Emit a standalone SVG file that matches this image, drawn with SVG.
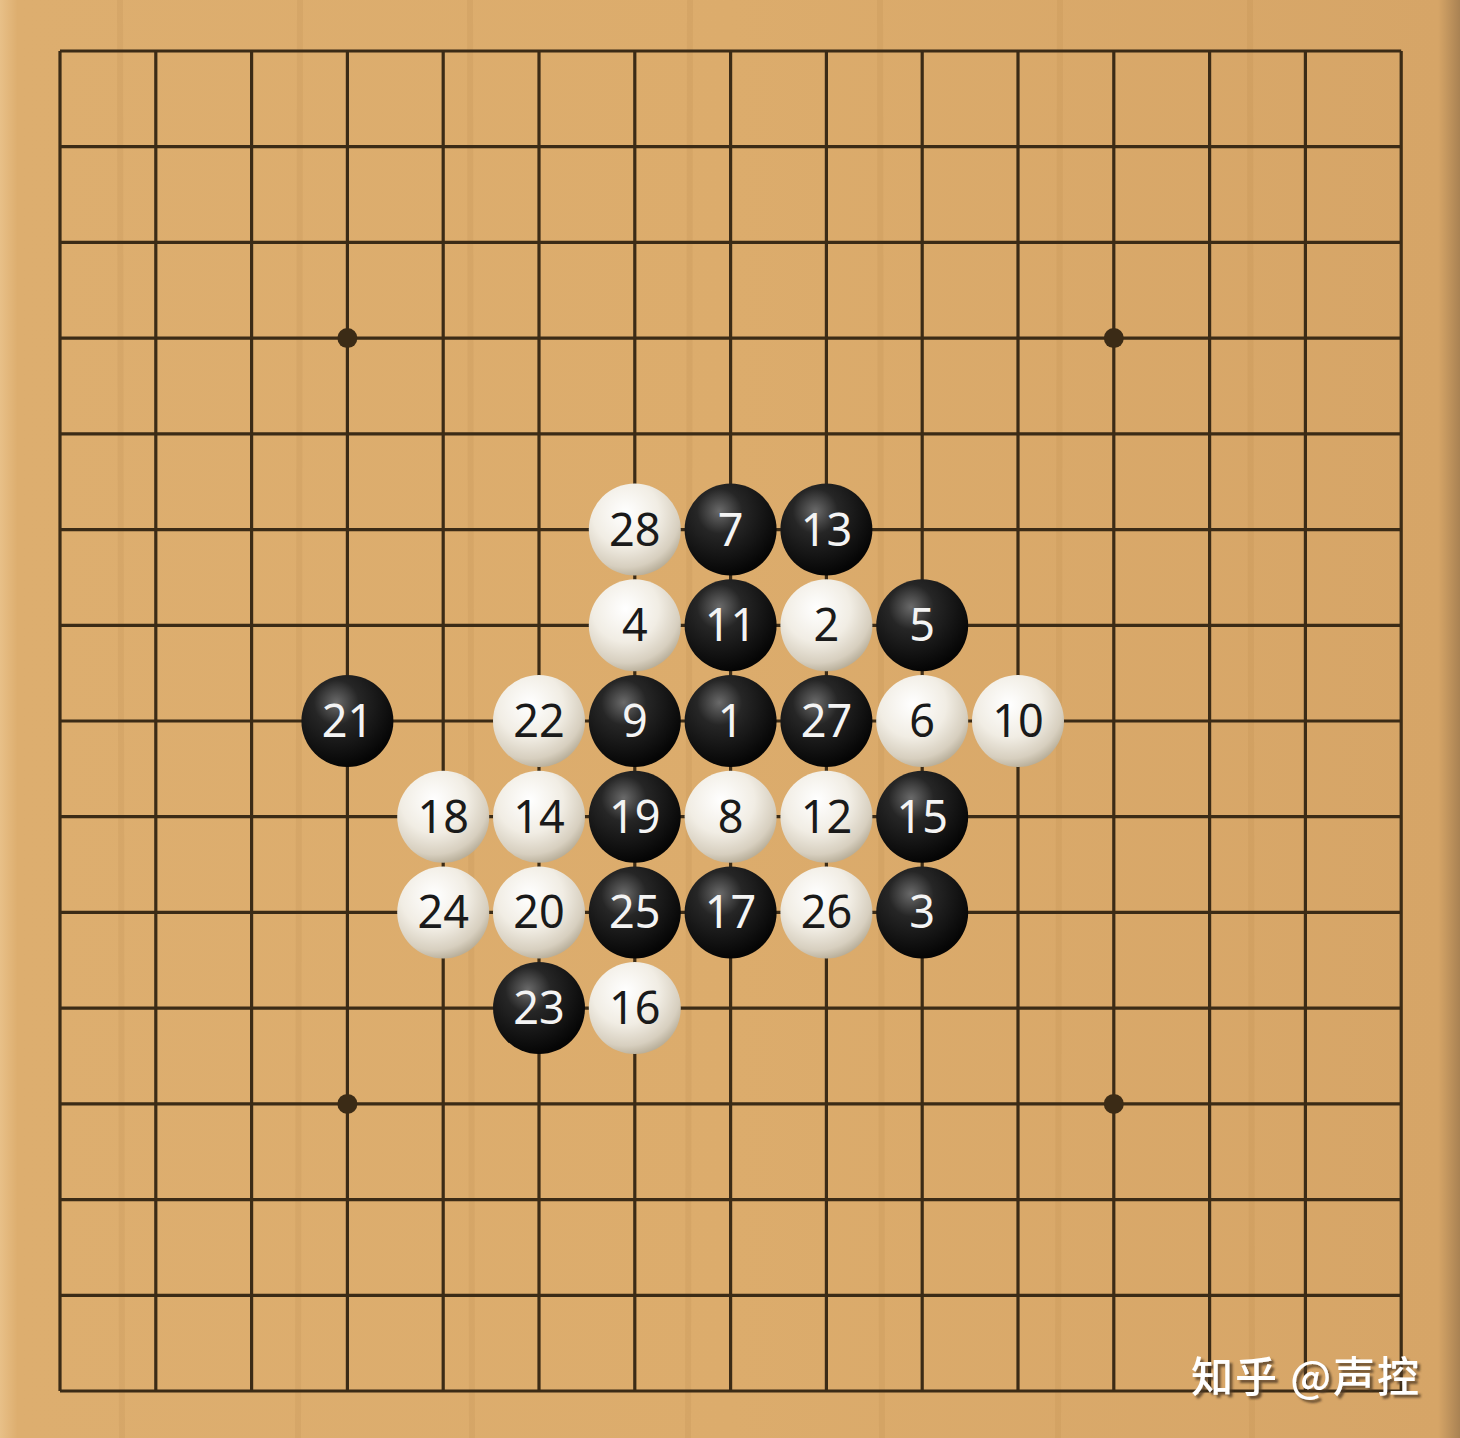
<svg xmlns="http://www.w3.org/2000/svg" width="1460" height="1438" viewBox="0 0 1460 1438">
<defs>
<linearGradient id="wood" x1="0" y1="0" x2="1" y2="0">
<stop offset="0" stop-color="#e8c088"/>
<stop offset="0.012" stop-color="#ddae6f"/>
<stop offset="0.5" stop-color="#dcac6c"/>
<stop offset="0.985" stop-color="#d6a567"/>
<stop offset="1" stop-color="#a98253"/>
</linearGradient>
<radialGradient id="gb" cx="0.38" cy="0.3" r="0.7">
<stop offset="0" stop-color="#6a6a6a"/>
<stop offset="0.35" stop-color="#262626"/>
<stop offset="1" stop-color="#050505"/>
</radialGradient>
<radialGradient id="gw" cx="0.4" cy="0.32" r="0.72">
<stop offset="0" stop-color="#ffffff"/>
<stop offset="0.5" stop-color="#f1ede4"/>
<stop offset="0.82" stop-color="#d7cfbf"/>
<stop offset="1" stop-color="#b3a993"/>
</radialGradient>
<filter id="sh" x="-10%" y="-30%" width="120%" height="160%">
<feDropShadow dx="3" dy="3" stdDeviation="1.2" flood-color="#4a3820" flood-opacity="0.75"/>
</filter>
</defs>
<style>
.ln{stroke:#3b2b16;stroke-width:3.2;fill:none}
.star{fill:#3b2b16}
.b circle{fill:url(#gb)}
.w circle{fill:url(#gw)}
.b text,.w text{font-family:"Noto Sans","Open Sans","DejaVu Sans",sans-serif;font-size:45px;text-anchor:middle}
.b text{fill:#f4f4f4}
.w text{fill:#1a1a1a}
.wm{font-family:"Noto Sans CJK SC","Noto Sans",sans-serif;font-size:42px;font-weight:500;fill:#ffffff}
</style>
<rect width="1460" height="1438" fill="url(#wood)"/>
<g opacity="0.06" stroke="#7a4a10" stroke-width="6">
<line x1="120" y1="0" x2="122" y2="1438"/>
<line x1="300" y1="0" x2="298" y2="1438"/>
<line x1="470" y1="0" x2="472" y2="1438"/>
<line x1="690" y1="0" x2="688" y2="1438"/>
<line x1="880" y1="0" x2="882" y2="1438"/>
<line x1="1060" y1="0" x2="1058" y2="1438"/>
<line x1="1250" y1="0" x2="1252" y2="1438"/>
</g>
<g id="grid">
<path class="ln" d="M60 51V1391M155.8 51V1391M251.6 51V1391M347.4 51V1391M443.2 51V1391M539 51V1391M634.8 51V1391M730.6 51V1391M826.4 51V1391M922.2 51V1391M1018 51V1391M1113.8 51V1391M1209.6 51V1391M1305.4 51V1391M1401.2 51V1391"/>
<path class="ln" d="M60 51H1401.2M60 146.7H1401.2M60 242.4H1401.2M60 338.1H1401.2M60 433.9H1401.2M60 529.6H1401.2M60 625.3H1401.2M60 721H1401.2M60 816.7H1401.2M60 912.4H1401.2M60 1008.1H1401.2M60 1103.9H1401.2M60 1199.6H1401.2M60 1295.3H1401.2M60 1391H1401.2"/>
<circle class="star" cx="347.4" cy="338.1" r="10"/>
<circle class="star" cx="1113.8" cy="338.1" r="10"/>
<circle class="star" cx="347.4" cy="1103.9" r="10"/>
<circle class="star" cx="1113.8" cy="1103.9" r="10"/>
</g>
<g id="stones">
<g id="s28" class="w"><circle cx="634.8" cy="529.6" r="46"/><text x="634.8" y="545.6">28</text></g>
<g id="s7" class="b"><circle cx="730.6" cy="529.6" r="46"/><text x="730.6" y="545.6">7</text></g>
<g id="s13" class="b"><circle cx="826.4" cy="529.6" r="46"/><text x="826.4" y="545.6">13</text></g>
<g id="s4" class="w"><circle cx="634.8" cy="625.3" r="46"/><text x="634.8" y="641.3">4</text></g>
<g id="s11" class="b"><circle cx="730.6" cy="625.3" r="46"/><text x="730.6" y="641.3">11</text></g>
<g id="s2" class="w"><circle cx="826.4" cy="625.3" r="46"/><text x="826.4" y="641.3">2</text></g>
<g id="s5" class="b"><circle cx="922.2" cy="625.3" r="46"/><text x="922.2" y="641.3">5</text></g>
<g id="s21" class="b"><circle cx="347.4" cy="721" r="46"/><text x="347.4" y="737">21</text></g>
<g id="s22" class="w"><circle cx="539" cy="721" r="46"/><text x="539" y="737">22</text></g>
<g id="s9" class="b"><circle cx="634.8" cy="721" r="46"/><text x="634.8" y="737">9</text></g>
<g id="s1" class="b"><circle cx="730.6" cy="721" r="46"/><text x="730.6" y="737">1</text></g>
<g id="s27" class="b"><circle cx="826.4" cy="721" r="46"/><text x="826.4" y="737">27</text></g>
<g id="s6" class="w"><circle cx="922.2" cy="721" r="46"/><text x="922.2" y="737">6</text></g>
<g id="s10" class="w"><circle cx="1018" cy="721" r="46"/><text x="1018" y="737">10</text></g>
<g id="s18" class="w"><circle cx="443.2" cy="816.7" r="46"/><text x="443.2" y="832.7">18</text></g>
<g id="s14" class="w"><circle cx="539" cy="816.7" r="46"/><text x="539" y="832.7">14</text></g>
<g id="s19" class="b"><circle cx="634.8" cy="816.7" r="46"/><text x="634.8" y="832.7">19</text></g>
<g id="s8" class="w"><circle cx="730.6" cy="816.7" r="46"/><text x="730.6" y="832.7">8</text></g>
<g id="s12" class="w"><circle cx="826.4" cy="816.7" r="46"/><text x="826.4" y="832.7">12</text></g>
<g id="s15" class="b"><circle cx="922.2" cy="816.7" r="46"/><text x="922.2" y="832.7">15</text></g>
<g id="s24" class="w"><circle cx="443.2" cy="912.4" r="46"/><text x="443.2" y="928.4">24</text></g>
<g id="s20" class="w"><circle cx="539" cy="912.4" r="46"/><text x="539" y="928.4">20</text></g>
<g id="s25" class="b"><circle cx="634.8" cy="912.4" r="46"/><text x="634.8" y="928.4">25</text></g>
<g id="s17" class="b"><circle cx="730.6" cy="912.4" r="46"/><text x="730.6" y="928.4">17</text></g>
<g id="s26" class="w"><circle cx="826.4" cy="912.4" r="46"/><text x="826.4" y="928.4">26</text></g>
<g id="s3" class="b"><circle cx="922.2" cy="912.4" r="46"/><text x="922.2" y="928.4">3</text></g>
<g id="s23" class="b"><circle cx="539" cy="1008.1" r="46"/><text x="539" y="1024.1">23</text></g>
<g id="s16" class="w"><circle cx="634.8" cy="1008.1" r="46"/><text x="634.8" y="1024.1">16</text></g>
</g>
<g id="watermark">
<text class="wm" x="1191" y="1392" textLength="228" lengthAdjust="spacing" filter="url(#sh)">知乎 @声控</text>
</g>
</svg>
